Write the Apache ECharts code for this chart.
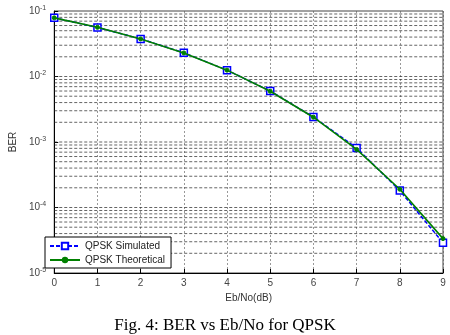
<!DOCTYPE html>
<html><head><meta charset="utf-8">
<script src="https://cdn.jsdelivr.net/npm/echarts@6/dist/echarts.min.js"></script>
<style>html,body{margin:0;padding:0;background:#fff}#c{width:450px;height:335px}</style>
</head><body><div id="c"></div>
<script>
var categories = [0,1,2,3,4,5,6,7,8,9];
var simulated = [0.079, 0.056, 0.0375, 0.023, 0.0125, 0.006, 0.0024, 0.00081, 0.000181, 0.000029];
var theoretical = [0.0786, 0.0563, 0.0375, 0.0229, 0.0125, 0.00595, 0.00239, 0.00077, 0.00019, 0.0000335];
var yDecades = [1e-5, 1e-4, 1e-3, 1e-2, 1e-1];
var yExponents = ['-5','-4','-3','-2','-1'];
var seriesNames = ['QPSK Simulated', 'QPSK Theoretical'];
var caption = 'Fig. 4: BER vs Eb/No for QPSK';

var gridValues = [];
for (var i = 0; i < yDecades.length - 1; i++) {
  for (var m = 2; m <= 9; m++) gridValues.push(yDecades[i] * m);
  if (i > 0) gridValues.push(yDecades[i]);
}
var lbl = {};
yDecades.forEach(function(d, i){ lbl[d.toExponential()] = yExponents[i]; });

var xMin = categories[0], xMax = categories[categories.length - 1];
var gridSeries = gridValues.map(function(v){
  return {
    type: 'line', silent: true, symbol: 'none', z: 1,
    data: [[xMin, v], [xMax, v]],
    lineStyle: {color: '#222', type: [3, 2], width: 0.7},
    tooltip: {show: false}
  };
});

var chart = echarts.init(document.getElementById('c'));
chart.setOption({
  animation: false,
  textStyle: {fontFamily: 'Liberation Sans'},
  title: {text: caption, left: 'center', top: 312,
    textStyle: {fontFamily: 'Liberation Serif', fontSize: 17, fontWeight: 'normal', color: '#000'}},
  grid: {left: 40, right: 7, top: 11, bottom: 62, show: true, borderColor: '#444', borderWidth: 1},
  legend: {
    orient: 'vertical', left: 45, top: 237, z: 10,
    backgroundColor: '#fff', borderColor: '#000', borderWidth: 1, borderRadius: 0,
    padding: [4, 6, 3, 4], itemGap: 4, itemWidth: 30, itemHeight: 8,
    textStyle: {fontSize: 10, color: '#222'},
    data: seriesNames
  },
  xAxis: {
    type: 'value', min: 0, max: 9, interval: 1,
    name: 'Eb/No(dB)', nameLocation: 'middle', nameGap: 17,
    nameTextStyle: {fontSize: 10, color: '#333'},
    axisLine: {lineStyle: {color: '#000'}},
    axisTick: {inside: true, length: 4, lineStyle: {color: '#000'}},
    axisLabel: {fontSize: 10, color: '#444', margin: 5},
    splitLine: {show: true, lineStyle: {color: '#555', type: [2, 2], width: 0.6}}
  },
  yAxis: {
    type: 'log', min: 1e-5, max: 1e-1, logBase: 10,
    name: 'BER', nameLocation: 'middle', nameGap: 26,
    nameTextStyle: {fontSize: 10, color: '#333'},
    axisLine: {show: true, lineStyle: {color: '#000'}},
    axisTick: {inside: true, length: 4, lineStyle: {color: '#000'}},
    axisLabel: {
      margin: 8,
      formatter: function(v){ var k = Number(v).toExponential(); return '{b|10}{s|' + (lbl[k] || '') + '}'; },
      rich: {b: {fontSize: 10, color: '#444'}, s: {fontSize: 7, color: '#444', verticalAlign: 'top', padding: [0,0,6,0]}}
    },
    splitLine: {show: false}
  },
  series: gridSeries.concat([
    {
      name: seriesNames[0], type: 'line',
      data: categories.map(function(x, i){ return [x, simulated[i]]; }),
      symbol: 'rect', symbolSize: 7, showAllSymbol: true,
      lineStyle: {color: '#0000ff', width: 1.5, type: [4, 2]},
      itemStyle: {color: '#fff', borderColor: '#0000ff', borderWidth: 1.5},
      z: 3
    },
    {
      name: seriesNames[1], type: 'line',
      data: categories.map(function(x, i){ return [x, theoretical[i]]; }),
      symbol: 'circle', symbolSize: 4, showAllSymbol: true,
      lineStyle: {color: '#008000', width: 1.6, type: 'solid'},
      itemStyle: {color: '#008000', borderColor: '#008000'},
      z: 4
    }
  ])
});
</script></body></html>
